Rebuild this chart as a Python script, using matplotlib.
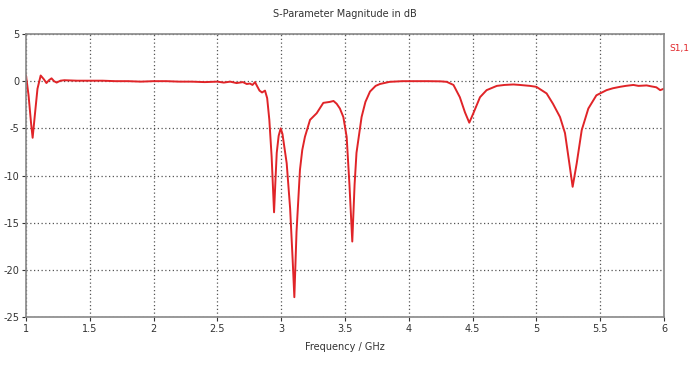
import matplotlib
matplotlib.use("Agg")
import matplotlib.pyplot as plt

freq = [1.00, 1.02, 1.04, 1.052, 1.07, 1.09, 1.115, 1.14, 1.16, 1.18, 1.20, 1.22, 1.24, 1.27, 1.30,
        1.40, 1.50, 1.60, 1.70, 1.80, 1.90, 2.00, 2.10, 2.20, 2.30, 2.40, 2.50, 2.55, 2.60, 2.65,
        2.70, 2.73, 2.755, 2.775, 2.795, 2.81, 2.83, 2.85, 2.873, 2.89, 2.907, 2.925, 2.944, 2.955,
        2.965, 2.98, 2.996, 3.01, 3.043, 3.07, 3.09, 3.103, 3.12, 3.147, 3.165, 3.186, 3.226, 3.278,
        3.33, 3.38, 3.41, 3.435, 3.46, 3.487, 3.513, 3.535, 3.557, 3.575, 3.59, 3.63, 3.66, 3.696,
        3.74, 3.774, 3.85, 3.95, 4.05, 4.15, 4.25, 4.297, 4.35, 4.40, 4.44, 4.474, 4.506, 4.558,
        4.61, 4.69, 4.75, 4.82, 4.87, 4.95, 5.00, 5.08, 5.13, 5.185, 5.224, 5.258, 5.284, 5.316,
        5.355, 5.407, 5.47, 5.55, 5.60, 5.655, 5.70, 5.76, 5.80, 5.864, 5.90, 5.94, 5.97, 6.00]

s11_db = [0.6, -1.5, -4.5, -6.0, -3.5, -0.8, 0.6, 0.2, -0.2, 0.1, 0.3, 0.0, -0.15, 0.05, 0.1,
          0.05, 0.05, 0.05, 0.0, 0.0, -0.05, 0.0, 0.0, -0.05, -0.05, -0.1, -0.05, -0.15, -0.05, -0.2,
          -0.1, -0.3, -0.25, -0.4, -0.1, -0.5, -1.0, -1.2, -1.0, -1.8, -4.1, -8.0, -13.9, -10.5,
          -7.6, -5.8, -5.0, -5.6, -8.7, -13.5, -19.0, -22.9, -16.0, -9.4, -7.3, -5.9, -4.1, -3.4,
          -2.3, -2.2, -2.1, -2.4, -2.9, -3.8, -5.9, -11.0, -17.0, -11.0, -7.6, -3.8, -2.2, -1.1,
          -0.5, -0.3, -0.07, 0.0, 0.0, 0.0, -0.02, -0.07, -0.4, -1.7, -3.3, -4.4, -3.4, -1.7,
          -0.95, -0.5, -0.4, -0.35, -0.4, -0.5, -0.6, -1.3, -2.4, -3.8, -5.5, -8.7, -11.2, -8.7,
          -5.2, -2.9, -1.5, -0.95, -0.75, -0.6, -0.5, -0.4, -0.5, -0.45, -0.55, -0.65, -0.95, -0.8]

x_ticks = [1, 1.5, 2, 2.5, 3, 3.5, 4, 4.5, 5, 5.5, 6]
x_tick_labels = ["1", "1.5", "2", "2.5", "3", "3.5", "4", "4.5", "5", "5.5", "6"]
y_ticks = [5, 0, -5, -10, -15, -20, -25]
y_tick_labels = ["5", "0", "-5", "-10", "-15", "-20", "-25"]

plt.rcParams['font.family'] = ['DejaVu Sans']

fig = plt.figure(figsize=(6.91, 3.71), dpi=100)
ax = fig.add_axes([26/691, 1-317/371, (664-26)/691, (317-34)/371])

ax.plot(freq, s11_db, color="#e02428", linewidth=1.4, solid_joinstyle="round")

ax.set_xlim(1, 6)
ax.set_ylim(-25, 5)
ax.set_xticks(x_ticks)
ax.set_xticklabels(x_tick_labels)
ax.set_yticks(y_ticks)
ax.set_yticklabels(y_tick_labels)
ax.tick_params(axis="both", labelsize=7, colors="#333333", direction="out", length=3, width=0.8, pad=2)
ax.grid(True, color="#555555", linestyle=(0, (1, 2)), linewidth=0.9)

for sp in ax.spines.values():
    sp.set_color("#888888")
    sp.set_linewidth(1.2)

ax.set_title("S-Parameter Magnitude in dB", fontsize=7, color="#333333", pad=12)
ax.set_xlabel("Frequency / GHz", fontsize=7, color="#333333", labelpad=6)
fig.text(689/691, 1-48/371, "S1,1", color="#e02428", fontsize=6.5, va="center", ha="right")

fig.savefig("out.png", dpi=100)
